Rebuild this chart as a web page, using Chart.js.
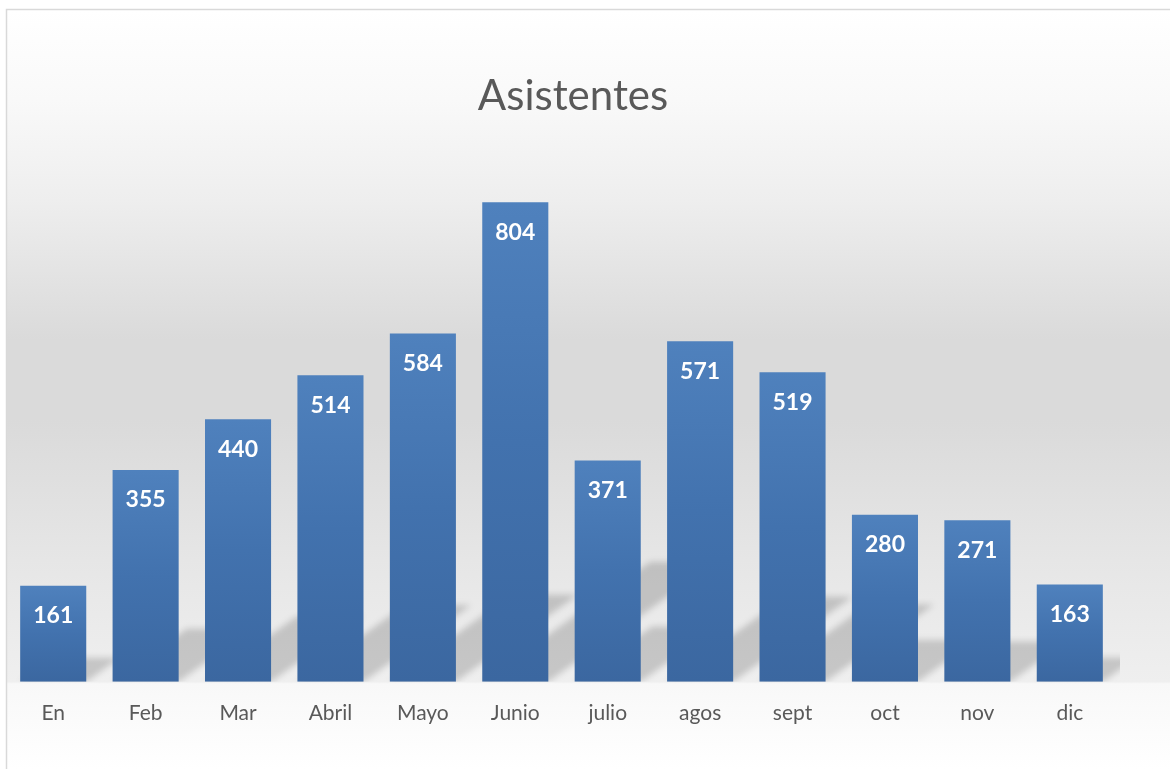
<!DOCTYPE html>
<html>
<head>
<meta charset="utf-8">
<script src="https://cdn.jsdelivr.net/npm/chart.js@4/dist/chart.umd.min.js"></script>
<style>
  html, body { margin: 0; padding: 0; background: #ffffff; }
  #wrap { position: absolute; left: 0; top: 0; width: 1172px; height: 769px; }
</style>
</head>
<body>
<div id="wrap"><canvas id="c" width="1172" height="769"></canvas></div>
<script>
const chartTitle = 'Asistentes';
const categories = ['En', 'Feb', 'Mar', 'Abril', 'Mayo', 'Junio', 'julio', 'agos', 'sept', 'oct', 'nov', 'dic'];
const asistentes = [161, 355, 440, 514, 584, 804, 371, 571, 519, 280, 271, 163];
const yMax = 900;

const W = 1172, H = 769;
const BOX = { x: 7, y: 10, r: 1170 };

const backgroundPlugin = {
  id: 'bg',
  beforeDraw(chart) {
    const ctx = chart.ctx;
    const base = chart.scales.y.getPixelForValue(0);
    const h = H - BOX.y;
    const f = (py) => Math.min(1, Math.max(0, (py - BOX.y) / h));
    ctx.save();
    ctx.fillStyle = '#ffffff';
    ctx.fillRect(0, 0, W, H);
    const g = ctx.createLinearGradient(0, BOX.y, 0, H);
    g.addColorStop(0, '#ffffff');
    g.addColorStop(f(100), '#f9f9f9');
    g.addColorStop(f(200), '#eeeeee');
    g.addColorStop(f(340), '#dadada');
    g.addColorStop(f(420), '#dadada');
    g.addColorStop(f(560), '#e6e6e6');
    g.addColorStop(f(base), '#efefef');
    g.addColorStop(f(base + 2), '#f8f8f8');
    g.addColorStop(1, '#ffffff');
    ctx.fillStyle = g;
    ctx.fillRect(BOX.x, BOX.y, BOX.r - BOX.x, H - BOX.y);
    ctx.strokeStyle = '#d9d9d9';
    ctx.lineWidth = 1.5;
    ctx.beginPath();
    ctx.moveTo(BOX.x - 0.5, H);
    ctx.lineTo(BOX.x - 0.5, BOX.y - 0.5);
    ctx.lineTo(BOX.r, BOX.y - 0.5);
    ctx.stroke();
    // title
    ctx.fillStyle = '#595959';
    ctx.font = '42px Lato, "Open Sans", sans-serif';
    ctx.textAlign = 'center';
    ctx.textBaseline = 'middle';
    ctx.fillText(chartTitle, 573, 96);
    ctx.restore();
  },
  beforeDatasetsDraw(chart) {
    const ctx = chart.ctx;
    const meta = chart.getDatasetMeta(0);
    const area = chart.chartArea;
    ctx.save();
    ctx.beginPath();
    ctx.rect(area.left, area.top, area.right - area.left + 4, area.bottom - area.top);
    ctx.clip();
    ctx.filter = 'blur(3px)';
    ctx.fillStyle = 'rgba(0,0,0,0.17)';
    ctx.beginPath();
    meta.data.forEach((el) => {
      const p = el.getProps(['x', 'y', 'base', 'width'], true);
      const x1 = p.x - p.width / 2, x2 = p.x + p.width / 2;
      const hh = p.base - p.y;
      ctx.moveTo(x1, p.base);
      ctx.lineTo(x2, p.base);
      ctx.lineTo(x2 + 0.35 * hh, p.base - 0.25 * hh);
      ctx.lineTo(x1 + 0.35 * hh, p.base - 0.25 * hh);
      ctx.closePath();
    });
    ctx.fill();
    ctx.restore();
  },
  afterDatasetsDraw(chart) {
    const ctx = chart.ctx;
    const meta = chart.getDatasetMeta(0);
    ctx.save();
    ctx.fillStyle = '#ffffff';
    ctx.font = 'bold 23px Lato, "Open Sans", sans-serif';
    ctx.textAlign = 'center';
    ctx.textBaseline = 'middle';
    meta.data.forEach((el, i) => {
      const p = el.getProps(['x', 'y'], true);
      ctx.fillText(String(asistentes[i]), p.x, p.y + 30);
    });
    ctx.restore();
  }
};

new Chart(document.getElementById('c'), {
  type: 'bar',
  data: {
    labels: categories,
    datasets: [{
      label: chartTitle,
      data: asistentes,
      borderWidth: 0,
      categoryPercentage: 0.715,
      barPercentage: 1.0,
      backgroundColor: (ctx) => {
        const chart = ctx.chart;
        const ys = chart.scales && chart.scales.y;
        if (!ys || ctx.raw === undefined) return '#4a7ebb';
        const top = ys.getPixelForValue(ctx.raw);
        const bot = ys.getPixelForValue(0);
        if (!isFinite(top) || !isFinite(bot) || top === bot) return '#4a7ebb';
        const g = chart.ctx.createLinearGradient(0, top, 0, bot);
        g.addColorStop(0, '#4f81bd');
        g.addColorStop(0.5, '#4272ae');
        g.addColorStop(1, '#3b67a0');
        return g;
      }
    }]
  },
  plugins: [backgroundPlugin],
  options: {
    responsive: false,
    animation: false,
    devicePixelRatio: 1,
    layout: { padding: { left: 7, right: 56, top: 145, bottom: 24 } },
    plugins: {
      legend: { display: false },
      title: { display: false },
      tooltip: { enabled: false }
    },
    scales: {
      x: {
        grid: { display: false, drawTicks: false },
        border: { display: false },
        ticks: {
          color: '#595959',
          padding: 19,
          font: { family: 'Lato, "Open Sans", sans-serif', size: 21 }
        }
      },
      y: {
        display: false,
        min: 0,
        max: yMax
      }
    }
  }
});
</script>
</body>
</html>
